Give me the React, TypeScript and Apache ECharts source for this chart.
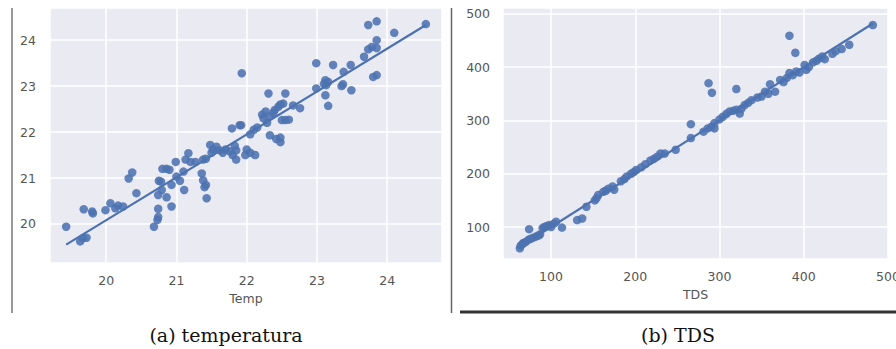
import React, { useEffect, useRef } from "react";
import * as echarts from "echarts";

// Panel (a): Temp vs predicted temperature
const tempPoints: [number, number][] = [
  [19.43, 19.94], [19.63, 19.62], [19.67, 19.69], [19.72, 19.7], [19.68, 20.32], [19.81, 20.23], [19.8, 20.27],
  [19.99, 20.3], [20.06, 20.45], [20.13, 20.34], [20.17, 20.4], [20.24, 20.38], [20.32, 20.99], [20.37, 21.12],
  [20.43, 20.67], [20.68, 19.94], [20.73, 20.09], [20.74, 20.15], [20.74, 20.33], [20.74, 20.63], [20.75, 20.94],
  [20.78, 20.92], [20.8, 21.2], [20.86, 21.2], [20.9, 21.18], [20.79, 20.74], [20.86, 20.58], [20.93, 20.38],
  [20.93, 20.85], [21.0, 21.03], [20.99, 21.35], [21.05, 20.94], [21.11, 20.74], [21.1, 21.14], [21.13, 21.4],
  [21.17, 21.54], [21.2, 21.35], [21.27, 21.35], [21.36, 21.1], [21.38, 20.95], [21.42, 20.85], [21.4, 20.8],
  [21.43, 20.56], [21.38, 21.4], [21.42, 21.42], [21.48, 21.72], [21.5, 21.55], [21.52, 21.62], [21.57, 21.68],
  [21.62, 21.6], [21.66, 21.55], [21.7, 21.62], [21.76, 21.58], [21.79, 22.08], [21.92, 22.15], [21.8, 21.5],
  [21.85, 21.6], [21.83, 21.7], [21.85, 21.4], [21.93, 23.28], [21.9, 22.15], [22.31, 22.84], [22.55, 22.84],
  [22.24, 22.3], [22.27, 22.45], [22.29, 22.2], [22.22, 22.38], [22.33, 22.35], [22.38, 22.42], [22.4, 22.48],
  [22.45, 22.55], [22.48, 22.6], [22.52, 22.62], [22.66, 22.58], [22.76, 22.52], [22.5, 22.26], [22.55, 22.26],
  [22.6, 22.27], [22.1, 22.05], [22.15, 22.1], [22.05, 21.95], [22.33, 21.93], [22.42, 21.85], [22.48, 21.88],
  [22.48, 21.78], [22.0, 21.62], [22.05, 21.55], [22.12, 21.5], [21.98, 21.5], [22.99, 23.5], [23.23, 23.46],
  [22.99, 22.95], [23.12, 23.13], [23.16, 23.09], [23.13, 23.02], [23.1, 23.05], [23.12, 22.8], [23.16, 22.57],
  [23.38, 23.31], [23.48, 23.46], [23.49, 22.91], [23.37, 23.04], [23.35, 23.0], [23.67, 23.64], [23.73, 24.33],
  [23.85, 24.41], [23.73, 23.8], [23.78, 23.85], [23.85, 23.83], [23.85, 24.0], [23.8, 23.2], [23.85, 23.24],
  [24.1, 24.16], [24.55, 24.35],
];
const tempFitX = [19.43, 24.55];
const tempFitY = [19.55, 24.33];

// Panel (b): TDS vs predicted TDS
const tdsPoints: [number, number][] = [
  [63, 60], [64, 65], [66, 68], [67, 70], [70, 72], [73, 76], [76, 78], [79, 80], [82, 82], [85, 84], [87, 86],
  [74, 96], [90, 98], [92, 100], [95, 102], [98, 104], [100, 100], [103, 106], [106, 110], [113, 99], [131, 113],
  [137, 116], [142, 138], [152, 150], [154, 154], [156, 160], [162, 166], [165, 168], [168, 172], [173, 176],
  [175, 170], [183, 186], [187, 190], [190, 195], [195, 200], [198, 203], [201, 207], [207, 212], [212, 218],
  [218, 225], [222, 228], [226, 232], [230, 238], [235, 238], [248, 245], [266, 293], [266, 267], [281, 279],
  [286, 285], [290, 288], [294, 295], [294, 285], [287, 370], [291, 352], [300, 302], [304, 307], [308, 312],
  [312, 317], [316, 318], [320, 320], [324, 313], [326, 322], [330, 329], [334, 333], [338, 338], [320, 359],
  [345, 343], [350, 345], [354, 354], [358, 350], [360, 368], [366, 354], [372, 376], [376, 372], [380, 380],
  [383, 389], [387, 385], [391, 392], [395, 390], [401, 404], [403, 395], [406, 400], [383, 459], [390, 427],
  [411, 409], [415, 412], [418, 416], [422, 420], [425, 415], [434, 425], [438, 430], [445, 434], [454, 442],
  [482, 479],
];
const tdsFitX = [63, 482];
const tdsFitY = [63, 482];

const axisNames = ["Temp", "TDS"];
const captions = ["(a) temperatura", "(b) TDS"];

const BLUE = "#4C72B0";
const LABEL = "#555555";

function fitLine(xs: number[], ys: number[]) {
  return xs.map((x, i) => [x, ys[i]]);
}

export default function App() {
  const ref = useRef<HTMLDivElement>(null);
  useEffect(() => {
    document.body.style.margin = "0";
    document.body.style.overflow = "hidden";
    if (!ref.current) return;
    const chart = echarts.init(ref.current, null, { renderer: "svg" });
    const axisCommon = {
      axisLine: { show: false },
      axisTick: { show: false },
      splitLine: { show: true, lineStyle: { color: "#ffffff", width: 1.5 } },
      axisLabel: {
        color: LABEL,
        fontSize: 12.5,
        fontFamily: "DejaVu Sans",
        showMinLabel: false,
        showMaxLabel: false,
      },
    };
    const xName = (name: string) => ({
      name,
      nameLocation: "middle" as const,
      nameGap: 28,
      nameTextStyle: { color: LABEL, fontSize: 12.5, fontFamily: "DejaVu Sans" },
    });
    chart.setOption({
      animation: false,
      grid: [
        { left: 50, top: 8, width: 392, height: 255, show: true, backgroundColor: "#EAEAF2", borderWidth: 0 },
        { left: 503, top: 8, width: 385, height: 251, show: true, backgroundColor: "#EAEAF2", borderWidth: 0 },
      ],
      xAxis: [
        { type: "value", gridIndex: 0, min: 19.2, max: 24.78, splitNumber: 5, ...axisCommon, axisLabel: { ...axisCommon.axisLabel, margin: 11 }, ...xName(axisNames[0]) },
        { type: "value", gridIndex: 1, min: 43, max: 500, splitNumber: 5, ...axisCommon, axisLabel: { ...axisCommon.axisLabel, margin: 11, showMaxLabel: true, alignMaxLabel: "center", hideOverlap: false }, ...xName(axisNames[1]) },
      ],
      yAxis: [
        { type: "value", gridIndex: 0, min: 19.15, max: 24.7, splitNumber: 5, ...axisCommon, axisLabel: { ...axisCommon.axisLabel, margin: 14 } },
        { type: "value", gridIndex: 1, min: 40, max: 511, splitNumber: 5, ...axisCommon, axisLabel: { ...axisCommon.axisLabel, margin: 13 } },
      ],
      series: [
        {
          type: "scatter", xAxisIndex: 0, yAxisIndex: 0, data: tempPoints, symbolSize: 8.5,
          itemStyle: { color: BLUE, opacity: 0.88 }, z: 2,
        },
        {
          type: "line", xAxisIndex: 0, yAxisIndex: 0, data: fitLine(tempFitX, tempFitY), symbol: "none",
          lineStyle: { color: BLUE, width: 2.2 }, z: 3,
        },
        {
          type: "scatter", xAxisIndex: 1, yAxisIndex: 1, data: tdsPoints, symbolSize: 8.5,
          itemStyle: { color: BLUE, opacity: 0.88 }, z: 2,
        },
        {
          type: "line", xAxisIndex: 1, yAxisIndex: 1, data: fitLine(tdsFitX, tdsFitY), symbol: "none",
          lineStyle: { color: BLUE, width: 2.2 }, z: 3,
        },
      ],
      graphic: [
        { type: "line", shape: { x1: 12, y1: 8, x2: 12, y2: 313 }, style: { stroke: "#777777", lineWidth: 1.5 } },
        { type: "line", shape: { x1: 451.5, y1: 8, x2: 451.5, y2: 313 }, style: { stroke: "#666666", lineWidth: 1.5 } },
        { type: "line", shape: { x1: 460, y1: 312, x2: 896, y2: 312 }, style: { stroke: "#333333", lineWidth: 3 } },
        {
          type: "text", x: 226, y: 335,
          style: { text: captions[0], fill: "#111111", font: '19px "DejaVu Serif"', textAlign: "center", textVerticalAlign: "middle" },
        },
        {
          type: "text", x: 678, y: 335,
          style: { text: captions[1], fill: "#111111", font: '19px "DejaVu Serif"', textAlign: "center", textVerticalAlign: "middle" },
        },
      ],
    });
    return () => chart.dispose();
  }, []);
  return <div ref={ref} style={{ width: 920, height: 349 }} />;
}
